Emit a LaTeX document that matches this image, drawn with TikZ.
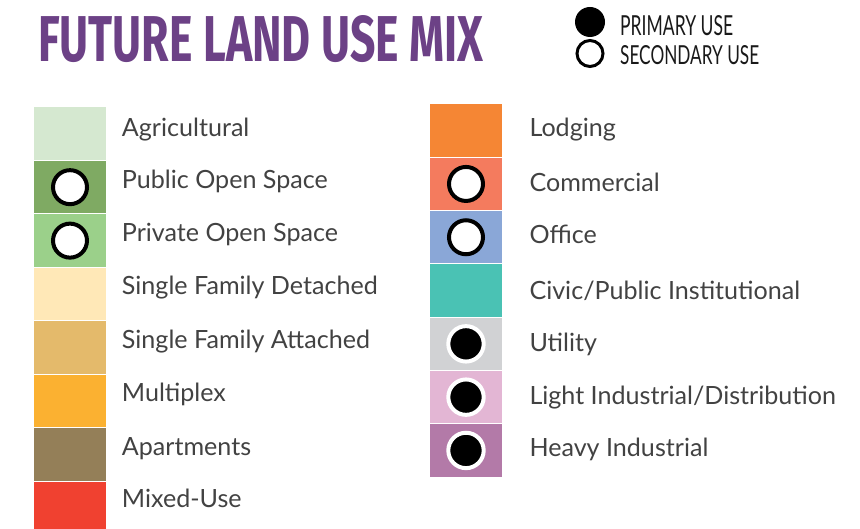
\documentclass[tikz,border=0pt]{standalone}
\usepackage{fontspec}
\setmainfont{Lato}
\newfontfamily\titlefont{Fira Sans}
\usepackage{graphicx}
\definecolor{txt}{HTML}{424242}
\definecolor{ttl}{HTML}{6C4186}
\definecolor{cAgr}{HTML}{D5E8D0}
\definecolor{cPub}{HTML}{7FAA63}
\definecolor{cPri}{HTML}{9BD08A}
\definecolor{cSFD}{HTML}{FFE8B7}
\definecolor{cSFA}{HTML}{E4BA6B}
\definecolor{cMul}{HTML}{FBB131}
\definecolor{cApt}{HTML}{947F58}
\definecolor{cMix}{HTML}{F04130}
\definecolor{cLod}{HTML}{F58634}
\definecolor{cCom}{HTML}{F47B5E}
\definecolor{cOff}{HTML}{8AA7D7}
\definecolor{cCiv}{HTML}{4AC2B4}
\definecolor{cUti}{HTML}{D1D2D4}
\definecolor{cLig}{HTML}{E3B6D4}
\definecolor{cHvy}{HTML}{B37AA8}
\begin{document}
\begin{tikzpicture}[x=1pt,y=-1pt,
  lbl/.style={anchor=base west,inner sep=0pt,text=txt,font=\fontsize{25.1}{30}\selectfont},
  sec/.style={circle,draw=black,line width=4pt,fill=white,minimum size=34pt,inner sep=0pt},
  pri/.style={circle,draw=white,line width=4pt,fill=black,minimum size=35.4pt,inner sep=0pt}]
\useasboundingbox (0,0) rectangle (860,529);
% title
\node[anchor=base west,inner sep=0pt,text=ttl] (title) at (38,62)
  {\resizebox{445pt}{46pt}{\titlefont\bfseries FUTURE LAND USE MIX}};
% legend
\node[circle,fill=black,minimum size=30pt,inner sep=0pt] (lp) at (590,22) {};
\node[circle,draw=black,line width=3pt,fill=white,minimum size=26pt,inner sep=0pt] (ls) at (590,53.5) {};
\node[anchor=base west,inner sep=0pt,text=black!90] (lpt) at (620,36)
  {\resizebox{113pt}{20pt}{PRIMARY USE}};
\node[anchor=base west,inner sep=0pt,text=black!90] (lst) at (620,65)
  {\resizebox{139pt}{19pt}{SECONDARY USE}};
% left column
\foreach \i/\c/\t/\b in {0/cAgr/Agricultural/136.7,
                         1/cPub/Public Open Space/188.5,
                         2/cPri/Private Open Space/241.5,
                         3/cSFD/Single Family Detached/295,
                         4/cSFA/Single Family Attached/349,
                         5/cMul/Multiplex/402,
                         6/cApt/Apartments/455,
                         7/cMix/Mixed-Use/507}{
  \fill[\c] (34,107+\i*53.45+0.5) rectangle (106,107+\i*53.45+53.45-0.5);
  \node[lbl] (L\i) at (121.7,\b) {\t};
}
\coordinate (lc1) at (70,107+1*53.45+53.45/2);
\coordinate (lc2) at (70,107+2*53.45+53.45/2);
\node[sec] (s1) at (lc1) {};
\node[sec] (s2) at (lc2) {};
% right column
\foreach \i/\c/\t/\b in {0/cLod/Lodging/136.7,
                         1/cCom/Commercial/191.7,
                         2/cOff/Office/244,
                         3/cCiv/Civic\slash Public Institutional/299.3,
                         4/cUti/Utility/351.7,
                         5/cLig/Light Industrial\slash Distribution/405,
                         6/cHvy/Heavy Industrial/456.7}{
  \fill[\c] (430,104+\i*53.3+0.5) rectangle (502,104+\i*53.3+53.3-0.5);
  \node[lbl] (R\i) at (529.3,\b) {\t};
}
\node[sec] (s3) at (466,104+1*53.3+53.3/2) {};
\node[sec] (s4) at (466,104+2*53.3+53.3/2) {};
\node[pri] (p1) at (466,104+4*53.3+53.3/2) {};
\node[pri] (p2) at (466,104+5*53.3+53.3/2) {};
\node[pri] (p3) at (466,104+6*53.3+53.3/2) {};
\end{tikzpicture}
\end{document}
